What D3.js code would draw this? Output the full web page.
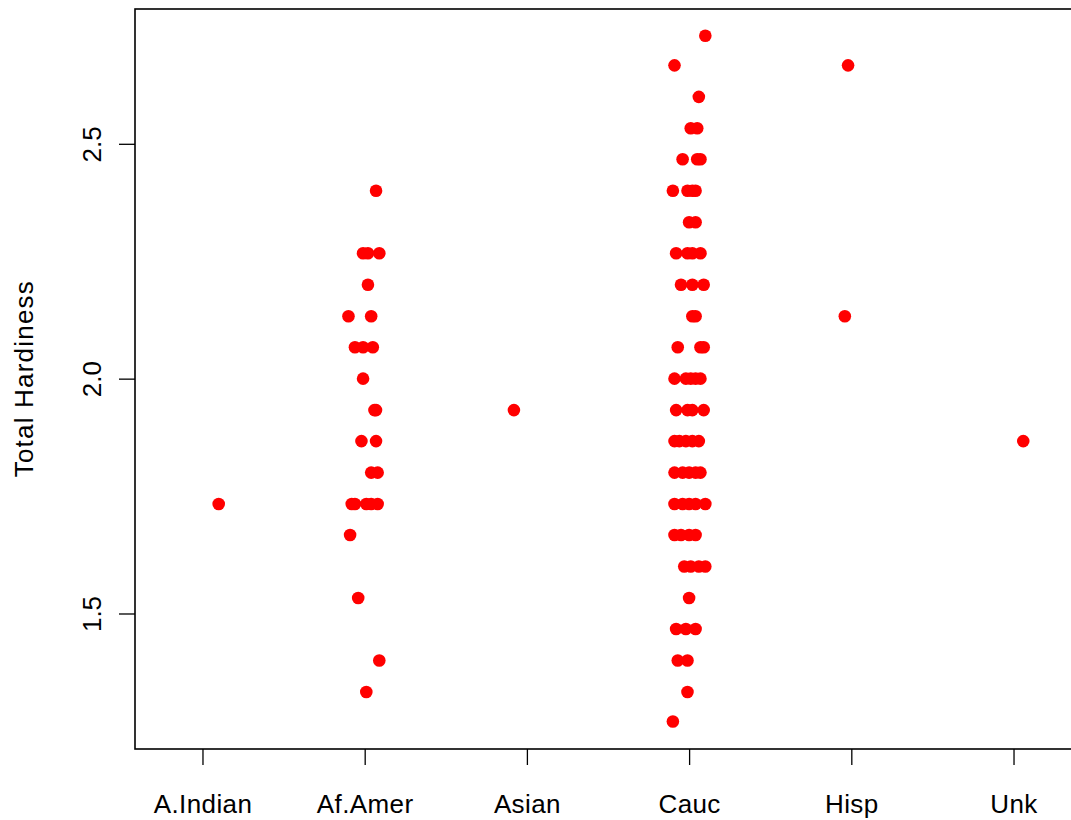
<!DOCTYPE html>
<html>
<head>
<meta charset="utf-8">
<script src="https://cdn.jsdelivr.net/npm/d3@7"></script>
<style>
  html, body { margin: 0; padding: 0; background: #fff; }
  svg { display: block; }
  text { font-family: "Liberation Sans", Arial, sans-serif; fill: #000; }
</style>
</head>
<body>
<svg id="chart" width="1071" height="820"></svg>
<script>
// ---- data ----
const categories = ["A.Indian", "Af.Amer", "Asian", "Cauc", "Hisp", "Unk"];
const yTicks = [1.5, 2.0, 2.5];
const yLabel = "Total Hardiness";

// Hardness values per category, with the strip-chart jitter (in category units)
const aIndianHardness = [1.733];
const aIndianJitter   = [0.10];

const afAmerHardness = [
  2.400,
  2.267, 2.267, 2.267,
  2.200,
  2.133, 2.133,
  2.067, 2.067, 2.067,
  2.000,
  1.933, 1.933,
  1.867, 1.867,
  1.800, 1.800,
  1.733, 1.733, 1.733, 1.733, 1.733,
  1.667,
  1.533,
  1.400,
  1.333
];
const afAmerJitter = [
  0.07,
  -0.01, 0.02, 0.09,
  0.02,
  -0.10, 0.04,
  -0.06, -0.01, 0.05,
  -0.01,
  0.06, 0.07,
  -0.02, 0.07,
  0.04, 0.08,
  -0.08, -0.06, 0.01, 0.04, 0.08,
  -0.09,
  -0.04,
  0.09,
  0.01
];

const asianHardness = [1.933];
const asianJitter   = [-0.08];

const caucHardness = [
  2.730,
  2.667,
  2.600,
  2.533, 2.533,
  2.467, 2.467, 2.467,
  2.400, 2.400, 2.400, 2.400,
  2.333, 2.333,
  2.267, 2.267, 2.267, 2.267,
  2.200, 2.200, 2.200,
  2.133, 2.133,
  2.067, 2.067, 2.067,
  2.000, 2.000, 2.000, 2.000, 2.000,
  1.933, 1.933, 1.933, 1.933,
  1.867, 1.867, 1.867, 1.867, 1.867,
  1.800, 1.800, 1.800, 1.800, 1.800,
  1.733, 1.733, 1.733, 1.733, 1.733,
  1.667, 1.667, 1.667, 1.667,
  1.600, 1.600, 1.600, 1.600,
  1.533,
  1.467, 1.467, 1.467,
  1.400, 1.400,
  1.333,
  1.270
];
const caucJitter = [
  0.10,
  -0.09,
  0.06,
  0.01, 0.05,
  -0.04, 0.05, 0.07,
  -0.10, -0.01, 0.02, 0.04,
  0.00, 0.04,
  -0.08, -0.01, 0.02, 0.07,
  -0.05, 0.02, 0.09,
  0.02, 0.04,
  -0.07, 0.07, 0.09,
  -0.09, -0.02, 0.01, 0.04, 0.07,
  -0.08, -0.01, 0.02, 0.09,
  -0.09, -0.06, -0.02, 0.02, 0.06,
  -0.09, -0.04, 0.00, 0.04, 0.07,
  -0.09, -0.04, 0.00, 0.04, 0.10,
  -0.09, -0.05, 0.00, 0.04,
  -0.03, 0.01, 0.06, 0.10,
  0.00,
  -0.08, -0.02, 0.04,
  -0.07, -0.01,
  -0.01,
  -0.10
];

const hispHardness = [2.667, 2.133];
const hispJitter   = [-0.02, -0.04];

const unkHardness = [1.867];
const unkJitter   = [0.06];

const hardnessByCategory = [aIndianHardness, afAmerHardness, asianHardness, caucHardness, hispHardness, unkHardness];
const jitterByCategory   = [aIndianJitter, afAmerJitter, asianJitter, caucJitter, hispJitter, unkJitter];

// ---- layout ----
const svg = d3.select("#chart");
svg.append("rect").attr("width", 1071).attr("height", 820).attr("fill", "#fff");

const x = d3.scaleLinear().domain([0.584, 6.416]).range([135, 1081]);
const y = d3.scaleLinear().domain([1.2115, 2.787]).range([749, 9]);

const fontSize = 26;
const tickLen = 16;
const fontFam = '"Liberation Sans", Arial, sans-serif';

// points
const pts = [];
hardnessByCategory.forEach((vals, gi) => {
  vals.forEach((v, i) => pts.push({ g: gi + 1, j: jitterByCategory[gi][i], v }));
});
svg.append("g").selectAll("circle").data(pts).join("circle")
  .attr("cx", d => x(d.g + d.j))
  .attr("cy", d => y(d.v))
  .attr("r", 6.3)
  .attr("fill", "#ff0000");

// box
svg.append("rect")
  .attr("x", x.range()[0]).attr("y", y.range()[1])
  .attr("width", x.range()[1] - x.range()[0])
  .attr("height", y.range()[0] - y.range()[1])
  .attr("fill", "none").attr("stroke", "#000").attr("stroke-width", 1.6);

// x axis
const xAxis = d3.axisBottom(x)
  .tickValues(d3.range(1, categories.length + 1))
  .tickFormat(d => categories[d - 1])
  .tickSize(tickLen);
const gx = svg.append("g").attr("transform", `translate(0,${y.range()[0]})`).call(xAxis);
gx.select(".domain").remove();
gx.selectAll(".tick line").attr("stroke", "#000").attr("stroke-width", 1.3);
gx.selectAll(".tick text").attr("font-size", fontSize)
  .attr("font-family", fontFam)
  .attr("letter-spacing", "0.4px")
  .attr("fill", "#000").attr("dy", null).attr("y", 64);

// y axis
const yAxis = d3.axisLeft(y).tickValues(yTicks).tickFormat(d3.format(".1f"))
  .tickSize(tickLen).tickPadding(0);
const gy = svg.append("g").attr("transform", `translate(${x.range()[0]},0)`).call(yAxis);
gy.select(".domain").remove();
gy.selectAll(".tick line").attr("stroke", "#000").attr("stroke-width", 1.3);
gy.selectAll(".tick text")
  .attr("font-size", fontSize)
  .attr("font-family", fontFam)
  .attr("fill", "#000")
  .attr("x", null).attr("dy", null)
  .attr("text-anchor", "middle")
  .attr("transform", "translate(-34,0) rotate(-90)");

// y label
svg.append("text")
  .attr("transform", `translate(33,${y(2.0)}) rotate(-90)`)
  .attr("text-anchor", "middle")
  .attr("font-size", fontSize)
  .attr("letter-spacing", "1.2px")
  .text(yLabel);
</script>
</body>
</html>
